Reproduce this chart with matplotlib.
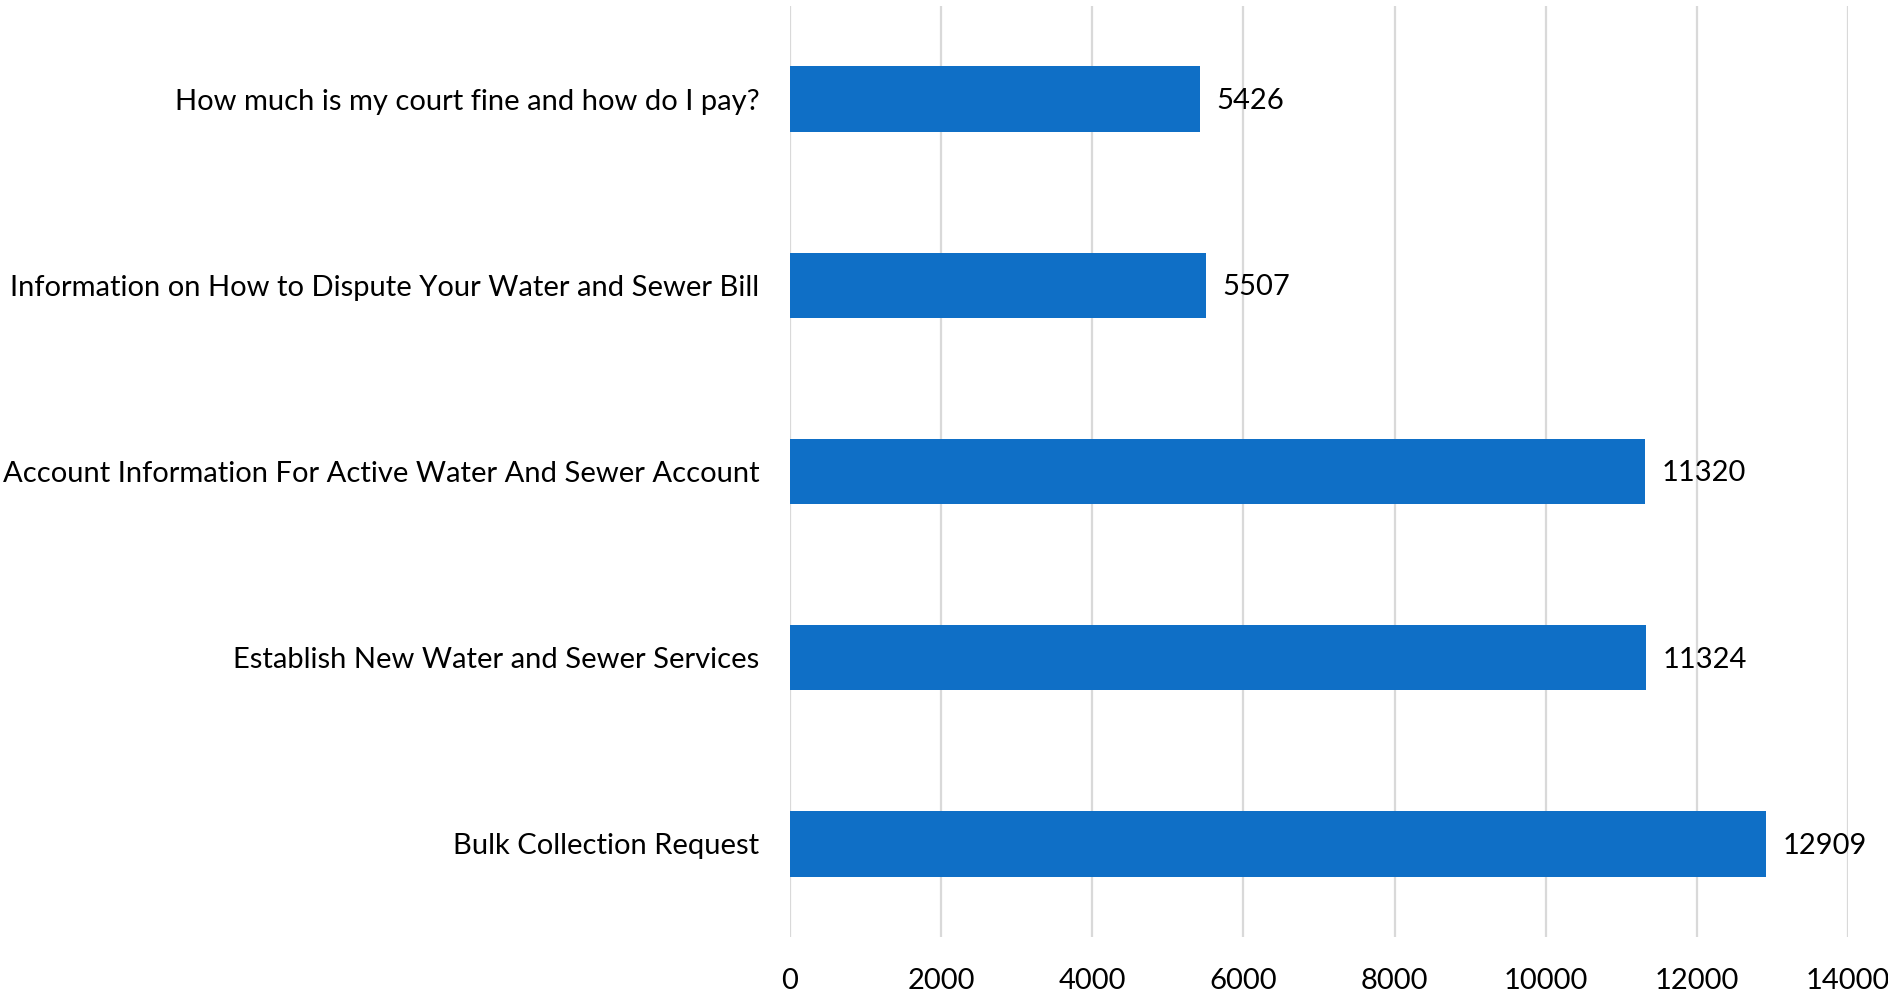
import matplotlib
matplotlib.use("Agg")
import matplotlib.pyplot as plt
import numpy as np

topics = [
    "How much is my court fine and how do I pay?",
    "Information on How to Dispute Your Water and Sewer Bill",
    "Account Information For Active Water And Sewer Account",
    "Establish New Water and Sewer Services",
    "Bulk Collection Request",
]
counts = [5426, 5507, 11320, 11324, 12909]
xticks = [0, 2000, 4000, 6000, 8000, 10000, 12000, 14000]

plt.rcParams['font.family'] = ['Lato', 'DejaVu Sans']

fig = plt.figure(figsize=(18.88, 9.94), dpi=100)
ax = fig.add_axes([0.4184, 0.0573, 0.9788 - 0.4184, 0.994 - 0.0573])

y = np.arange(len(topics))
ax.barh(y, counts, height=0.35, color='#0F6FC6', zorder=3)
for yi, v in zip(y, counts):
    ax.text(v + 220, yi + 0.01, str(v), va='center', ha='left', fontsize=21, color='black')

ax.set_xlim(0, 14000)
ax.set_ylim(len(topics) - 0.5, -0.5)
ax.set_xticks(xticks)
ax.set_xticklabels([str(t) for t in xticks], fontsize=21)
ax.set_yticks(y)
ax.set_yticklabels(topics, fontsize=21)
ax.tick_params(axis='both', length=0)
ax.tick_params(axis='x', pad=22)
ax.tick_params(axis='y', pad=22)
ax.grid(axis='x', color='#D9D9D9', linewidth=1.6, zorder=0)
for s in ax.spines.values():
    s.set_visible(False)

fig.savefig('out.png', dpi=100)
